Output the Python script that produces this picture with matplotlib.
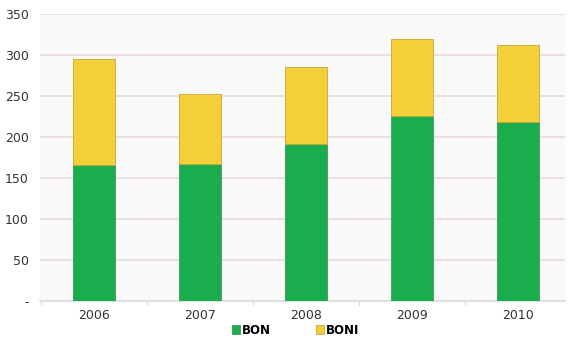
import matplotlib.pyplot as plt
import numpy as np

years = ["2006", "2007", "2008", "2009", "2010"]
bon = [166, 167, 192, 226, 218]
boni = [129, 85, 93, 94, 94]

green = "#19ad4e"
yellow = "#f5cf37"

fig = plt.figure(figsize=(5.68, 3.41), dpi=100)
fig.patch.set_facecolor("white")
ax = fig.add_axes([0.0704, 0.117, 0.924, 0.842])
ax.set_facecolor("#f9f9f9")

x = np.arange(len(years))
ax.bar(x, bon, width=0.4, color=green, edgecolor="#3f9a55", linewidth=0.6, zorder=3, label="BON")
ax.bar(x, boni, width=0.4, bottom=bon, color=yellow, edgecolor="#c9a53a", linewidth=0.6, zorder=3, label="BONI")

ax.set_xlim(-0.51, 4.443)
ax.set_ylim(0, 350)
ax.set_yticks(range(0, 351, 50))
ax.set_yticklabels(["-"] + [str(v) for v in range(50, 351, 50)])
ax.set_xticks(x)
ax.set_xticklabels(years)
ax.set_xticks(np.arange(-0.5, 4.5, 1), minor=True)
ax.tick_params(axis="x", which="major", length=0, pad=6, labelsize=9, colors="#333333")
ax.tick_params(axis="x", which="minor", length=3, color="#cccccc")
ax.tick_params(axis="y", length=0, pad=8, labelsize=9, colors="#333333")

ax.grid(axis="y", color="#e8dada", linewidth=1.2, zorder=0)
for s in ["top", "right", "left"]:
    ax.spines[s].set_visible(False)
ax.spines["bottom"].set_color("#dddddd")
ax.spines["bottom"].set_linewidth(1.2)

handles, labels = ax.get_legend_handles_labels()
fig.legend(handles, labels, loc="center", bbox_to_anchor=(0.52, 0.032), ncol=2,
           frameon=False, handlelength=0.7, handleheight=0.7,
           handletextpad=0.15, columnspacing=3.8,
           prop={"weight": "bold", "size": 8.5})

fig.savefig("out.png", dpi=100)
